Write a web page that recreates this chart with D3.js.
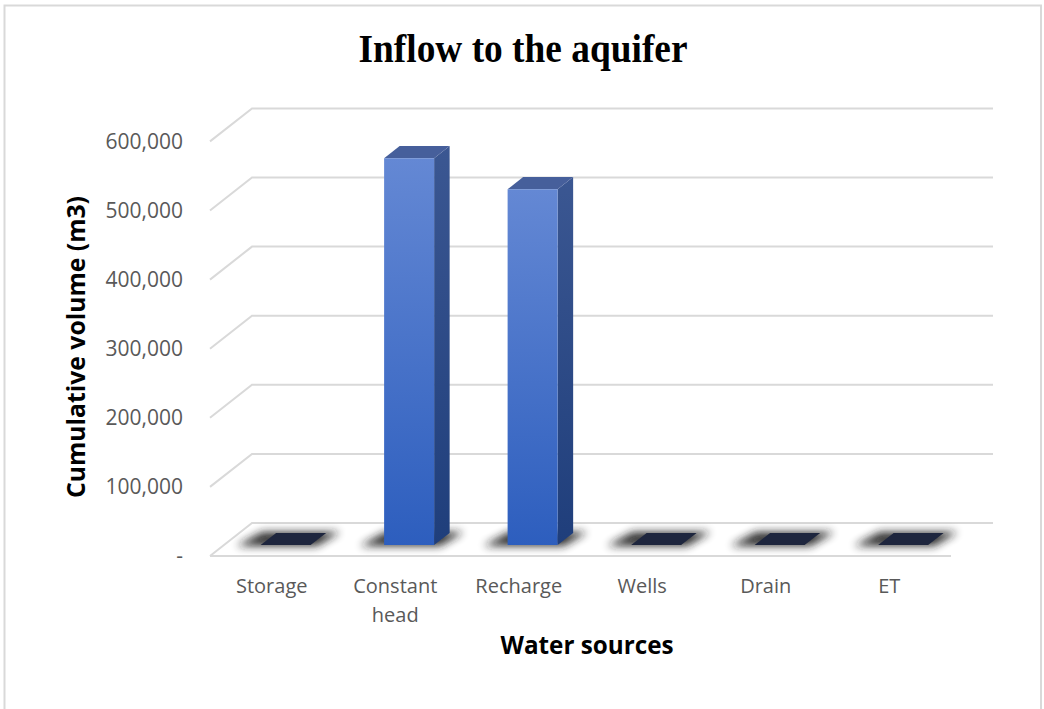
<!DOCTYPE html>
<html>
<head>
<meta charset="utf-8">
<script src="https://cdn.jsdelivr.net/npm/d3@7"></script>
<style>
  html, body { margin: 0; padding: 0; background: #fff; }
  svg { display: block; }
</style>
</head>
<body>
<svg id="chart" width="1044" height="709"></svg>
<script>
// Cumulative inflow volumes per water source (m3)
const categories = ["Storage", "Constant head", "Recharge", "Wells", "Drain", "ET"];
const inflow = [0, 560000, 515000, 0, 0, 0];
const yTicks = [0, 100000, 200000, 300000, 400000, 500000, 600000];

const chartTitle = "Inflow to the aquifer";
const xTitle = "Water sources";
const yTitle = "Cumulative volume (m3)";

const svg = d3.select("#chart");
const W = 1044, H = 709;

// Plot geometry: front plane of the floor and the depth vector towards the back wall
const front = { left: 210, right: 951, bottom: 556, top: 141.4 };
const depth = { dx: 42, dy: -33 };
const barDepth = [0.33, 0.70];   // bar front / back as fraction of full depth
const barWidth = 50;

const x = d3.scaleBand().domain(categories).range([front.left, front.right]);
const y = d3.scaleLinear().domain([0, 600000]).range([front.bottom, front.top]);

// project a point (front-plane x, value, depth fraction) to screen
const P = (px, v, f) => [px + depth.dx * f, y(v) + depth.dy * f];

const defs = svg.append("defs");
const gFront = defs.append("linearGradient").attr("id", "gFront")
  .attr("x1", 0).attr("y1", 0).attr("x2", 0).attr("y2", 1);
gFront.append("stop").attr("offset", "0%").attr("stop-color", "#6488d4");
gFront.append("stop").attr("offset", "100%").attr("stop-color", "#2d5ebe");
const gSide = defs.append("linearGradient").attr("id", "gSide")
  .attr("x1", 0).attr("y1", 0).attr("x2", 0).attr("y2", 1);
gSide.append("stop").attr("offset", "0%").attr("stop-color", "#3b5792");
gSide.append("stop").attr("offset", "100%").attr("stop-color", "#1f3e7b");
defs.append("filter").attr("id", "soft")
  .attr("x", "-50%").attr("y", "-150%").attr("width", "200%").attr("height", "400%")
  .append("feGaussianBlur").attr("stdDeviation", 4.5);

// outer frame
svg.append("rect").attr("x", 4.5).attr("y", 5.5).attr("width", 1036.5).attr("height", H + 10)
  .attr("fill", "#fff").attr("stroke", "#d9d9d9").attr("stroke-width", 2);

// title
svg.append("text").attr("x", 523).attr("y", 62).attr("text-anchor", "middle")
  .attr("font-family", "'Liberation Serif', 'Times New Roman', serif")
  .attr("font-weight", "bold").attr("font-size", 40)
  .attr("textLength", 329).attr("lengthAdjust", "spacingAndGlyphs")
  .attr("fill", "#000").text(chartTitle);

// gridlines: back wall horizontals + side wall diagonals
const grid = svg.append("g").attr("stroke", "#d9d9d9").attr("stroke-width", 2).attr("fill", "none");
yTicks.forEach(t => {
  const a = P(front.left, t, 0), b = P(front.left, t, 1), c = P(front.right, t, 1);
  grid.append("path").attr("d", `M${a[0]},${a[1]}L${b[0]},${b[1]}L${c[0]},${c[1]}`);
});
// floor front edge
{
  const a = P(front.left, 0, 0), b = P(front.right, 0, 0);
  grid.append("line").attr("x1", a[0]).attr("y1", a[1]).attr("x2", b[0]).attr("y2", b[1]);
}

// y tick labels
svg.append("g").selectAll("text").data(yTicks).join("text")
  .attr("x", 183).attr("y", d => y(d)).attr("dy", "0.35em")
  .attr("text-anchor", "end")
  .attr("font-family", "'Open Sans', sans-serif").attr("font-size", 21)
  .attr("fill", "#595959")
  .text(d => d === 0 ? "-" : d3.format(",")(d));

// bars
const bars = svg.append("g");
categories.forEach((c, i) => {
  const v = inflow[i];
  const cx = x(c) + x.bandwidth() / 2;
  const x0 = cx - barWidth / 2, x1 = cx + barWidth / 2;
  const [f0, f1] = barDepth;
  const A = P(x0, 0, f0), B = P(x1, 0, f0), C = P(x1, 0, f1), D = P(x0, 0, f1);
  // soft base shadow
  bars.append("path")
    .attr("d", `M${A[0] - 24},${A[1] + 1}L${B[0] + 6},${B[1] + 1}L${C[0] + 14},${C[1] - 1}L${D[0] - 14},${D[1] - 1}Z`)
    .attr("fill", "#1a1a1a").attr("opacity", 0.9).attr("filter", "url(#soft)");
  if (v === 0) {
    bars.append("path").attr("d", `M${A}L${B}L${C}L${D}Z`).attr("fill", "#1e263e");
    return;
  }
  const At = P(x0, v, f0), Bt = P(x1, v, f0), Ct = P(x1, v, f1), Dt = P(x0, v, f1);
  bars.append("path").attr("d", `M${B}L${C}L${Ct}L${Bt}Z`).attr("fill", "url(#gSide)");
  bars.append("path").attr("d", `M${At}L${Bt}L${Ct}L${Dt}Z`).attr("fill", "#465f9b");
  bars.append("path").attr("d", `M${A}L${B}L${Bt}L${At}Z`).attr("fill", "url(#gFront)");
});

// category labels with word wrap
const lab = svg.append("g").selectAll("text").data(categories).join("text")
  .attr("x", d => x(d) + x.bandwidth() / 2).attr("y", 593)
  .attr("text-anchor", "middle")
  .attr("font-family", "'Open Sans', sans-serif").attr("font-size", 20)
  .attr("fill", "#595959")
  .text(d => d);
lab.each(function (d) {
  const t = d3.select(this);
  if (this.getComputedTextLength() > x.bandwidth() - 8 && d.includes(" ")) {
    const words = d.split(" ");
    t.text(null);
    words.forEach((w, k) => {
      t.append("tspan").attr("x", x(d) + x.bandwidth() / 2).attr("dy", k === 0 ? 0 : 29).text(w);
    });
  }
});

// axis titles
svg.append("text").attr("x", 587).attr("y", 654).attr("text-anchor", "middle")
  .attr("font-family", "'Open Sans', sans-serif").attr("font-weight", "bold").attr("font-size", 25)
  .attr("textLength", 173).attr("lengthAdjust", "spacingAndGlyphs")
  .attr("fill", "#000").text(xTitle);

svg.append("text").attr("transform", "translate(85,347) rotate(-90)").attr("text-anchor", "middle")
  .attr("font-family", "'Open Sans', sans-serif").attr("font-weight", "bold").attr("font-size", 25)
  .attr("textLength", 302).attr("lengthAdjust", "spacingAndGlyphs")
  .attr("fill", "#000").text(yTitle);
</script>
</body>
</html>
